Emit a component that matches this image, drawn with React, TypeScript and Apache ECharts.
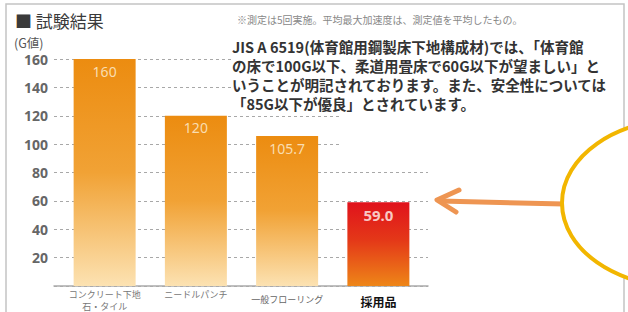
import React, { useEffect, useRef } from "react";
import * as echarts from "echarts";

const categories = ["コンクリート下地\n石・タイル", "ニードルパンチ", "一般フローリング", "採用品"];
const values = [160, 120, 105.7, 59.0];
const valueLabels = ["160", "120", "105.7", "59.0"];
const yMin = 0;
const yMax = 160;
const yInterval = 20;
const titleText = "■ 試験結果";
const unitText = "(G値)";
const noteText = "※測定は5回実施。平均最大加速度は、測定値を平均したもの。";
const bodyLines = [
  "JIS A 6519(体育館用鋼製床下地構成材)では、「体育館",
  "の床で100G以下、柔道用畳床で60G以下が望ましい」と",
  "いうことが明記されております。また、安全性については",
  "「85G以下が優良」とされています。",
];

const JP = "'Noto Sans CJK JP', 'Noto Sans', sans-serif";

export default function App() {
  const ref = useRef<HTMLDivElement>(null);
  useEffect(() => {
    if (!ref.current) return;
    const chart = echarts.init(ref.current, null, { renderer: "svg" });
    const orange = new echarts.graphic.LinearGradient(0, 0, 0, 1, [
      { offset: 0, color: "#EC8C10" },
      { offset: 0.5, color: "#F1A235" },
      { offset: 1, color: "#FCE2B2" },
    ]);
    const red = new echarts.graphic.LinearGradient(0, 0, 0, 1, [
      { offset: 0, color: "#E0121C" },
      { offset: 0.45, color: "#E43818" },
      { offset: 1, color: "#EE8618" },
    ]);
    const labelStyles = ["a", "a", "c", "d"];
    chart.setOption({
      animation: false,
      backgroundColor: "#ffffff",
      grid: [
        { left: 54, right: 200, top: 59, bottom: 26 },
        { left: 59, right: 204, top: 59, bottom: 26 },
      ],
      xAxis: [
        {
          gridIndex: 0,
          type: "category",
          data: categories,
          axisLine: { show: true, lineStyle: { color: "#aaaaaa", width: 1.5 } },
          axisTick: { show: false },
          axisLabel: { show: false },
        },
        {
          gridIndex: 1,
          type: "category",
          data: categories,
          axisLine: { show: false },
          axisTick: { show: false },
          axisLabel: {
            margin: 2,
            interval: 0,
            formatter: (v: string, i: number) =>
              v
                .split("\n")
                .map((s) => `{${labelStyles[i]}|${s}}`)
                .join("\n"),
            rich: {
              a: { fontSize: 9, color: "#777777", lineHeight: 12, fontFamily: JP },
              c: { fontSize: 9, color: "#666666", lineHeight: 12, fontFamily: JP, padding: [11, 0, 0, 0] },
              d: { fontSize: 12, color: "#111111", fontWeight: "bold", lineHeight: 14, fontFamily: JP, padding: [13, 0, 0, 0] },
            },
          },
        },
      ],
      yAxis: [
        {
          gridIndex: 0,
          type: "value",
          min: yMin,
          max: yMax,
          interval: yInterval,
          axisLine: { show: false },
          axisTick: { show: false },
          axisLabel: {
            showMinLabel: false,
            margin: 6,
            fontSize: 14,
            lineHeight: 12,
            fontWeight: "bold",
            color: "#666666",
            fontFamily: "'Noto Sans', sans-serif",
          },
          splitLine: { show: true, lineStyle: { color: "#a8a8a8", type: [3, 3], width: 1 } },
        },
        {
          gridIndex: 1,
          type: "value",
          min: yMin,
          max: yMax,
          interval: yInterval,
          show: false,
          splitLine: { show: false },
        },
      ],
      series: [
        {
          type: "bar",
          xAxisIndex: 1,
          yAxisIndex: 1,
          barWidth: 62,
          data: values.map((v, i) => ({
            value: v,
            itemStyle: { color: i === 3 ? red : orange },
            label: {
              show: true,
              position: "insideTop",
              distance: 5,
              formatter: valueLabels[i],
              color: i === 3 ? "#F8C8C4" : "#F9DDB0",
              fontSize: i === 3 ? 15 : 14,
              fontWeight: i === 3 ? "bold" : "normal",
              fontFamily: "'Noto Sans', sans-serif",
            },
          })),
        },
      ],
      graphic: [
        { type: "rect", z: 1, shape: { x: 231, y: 50, width: 400, height: 60 }, style: { fill: "#ffffff" } },
        { type: "rect", z: 1, shape: { x: 341, y: 110, width: 290, height: 50 }, style: { fill: "#ffffff" } },
        {
          type: "rect",
          z: 3,
          shape: { x: 6, y: 4, width: 618, height: 330 },
          style: { fill: "none", stroke: "#c4c4c4", lineWidth: 1.5 },
        },
        {
          type: "text",
          z: 4,
          x: 15,
          y: 20,
          style: { text: titleText, fontSize: 17, lineHeight: 17, fill: "#3a3a3a", fontFamily: JP, verticalAlign: "middle" },
        },
        {
          type: "text",
          z: 4,
          x: 14,
          y: 42,
          style: { text: unitText, fontSize: 12.5, lineHeight: 12, fill: "#555555", fontFamily: JP, verticalAlign: "middle" },
        },
        {
          type: "text",
          z: 4,
          x: 237,
          y: 19,
          style: { text: noteText, fontSize: 10, fill: "#888888", fontFamily: JP, verticalAlign: "middle" },
        },
        ...bodyLines.map((t, i) => ({
          type: "text",
          z: 4,
          x: 232,
          y: 46 + i * 19,
          style: {
            text: t,
            fontSize: 14.5,
            fontWeight: "bold",
            fill: "#333333",
            fontFamily: JP,
            verticalAlign: "middle",
          },
        })),
        {
          type: "line",
          z: 5,
          shape: { x1: 440, y1: 201, x2: 564, y2: 204 },
          style: { stroke: "#EE9552", lineWidth: 5, lineCap: "round" },
        },
        {
          type: "polyline",
          z: 5,
          shape: { points: [[459, 190], [437, 200], [456, 212]] },
          style: { stroke: "#EE9552", lineWidth: 5, fill: "none", lineCap: "round", lineJoin: "round" },
        },
        {
          type: "ellipse",
          z: 6,
          shape: { cx: 682, cy: 203, rx: 120, ry: 84 },
          style: { fill: "#ffffff", stroke: "#F2B600", lineWidth: 4 },
        },
      ],
    });
    return () => chart.dispose();
  }, []);
  return <div ref={ref} style={{ position: "fixed", left: 0, top: 0, width: 628, height: 312 }} />;
}
